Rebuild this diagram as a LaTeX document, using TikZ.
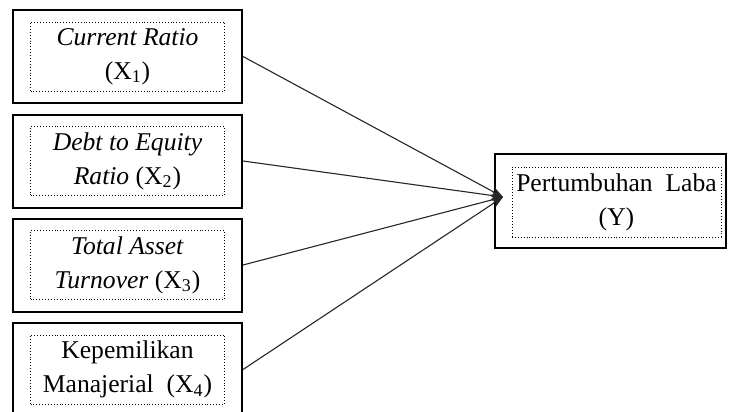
\documentclass[tikz,border=0pt]{standalone}
\usepackage{fontspec}
\setmainfont{Liberation Serif}
\usetikzlibrary{arrows.meta}
\usetikzlibrary{positioning}

\tikzset{
	outerbox/.style={draw, line width=1pt, minimum width=114.5pt, minimum height=46.5pt, inner sep=0pt},
	innerbox/.style={draw, densely dotted, line width=0.45pt, minimum width=97pt, minimum height=34.5pt, align=center, inner sep=0pt, font=\fontsize{12.8}{17}\selectfont},
	link/.style={-{Stealth[length=6pt,width=4.5pt]}, line width=0.55pt, black!85}
}

\begin{document}
\begin{tikzpicture}[x=0.5pt, y=-0.5pt]
					\useasboundingbox (0,0) rectangle (729,412);
					%draw outer boxes
					\node[outerbox] (x1) at (127.5,56.5) {};
					\node[outerbox] (x2) at (127.5,161) {};
					\node[outerbox] (x3) at (127.5,265) {};
					\node[outerbox] (x4) at (127.5,369.5) {};
					\node[outerbox, minimum width=115.5pt, minimum height=47pt] (y) at (610.5,201) {};
					%inner dotted boxes with the texts
					\node[innerbox] (x1in) at (x1.center) {\textit{Current Ratio}\\(X\textsubscript{1})};
					\node[innerbox] (x2in) at (x2.center) {\textit{Debt to Equity}\\\textit{Ratio} (X\textsubscript{2})};
					\node[innerbox] (x3in) at (x3.center) {\textit{Total Asset}\\\textit{Turnover} (X\textsubscript{3})};
					\node[innerbox] (x4in) at (x4.center) {Kepemilikan\\Manajerial~~(X\textsubscript{4})};
					\node[innerbox, minimum width=104.5pt, minimum height=35pt] (yin) at (616.5,202) {Pertumbuhan~~Laba\\(Y)};
					%arrows
					\coordinate (tip) at (503,197);
					\foreach \i in {1,...,4}
						\draw[link] (x\i.east) -- (tip);
				\end{tikzpicture}
\end{document}
